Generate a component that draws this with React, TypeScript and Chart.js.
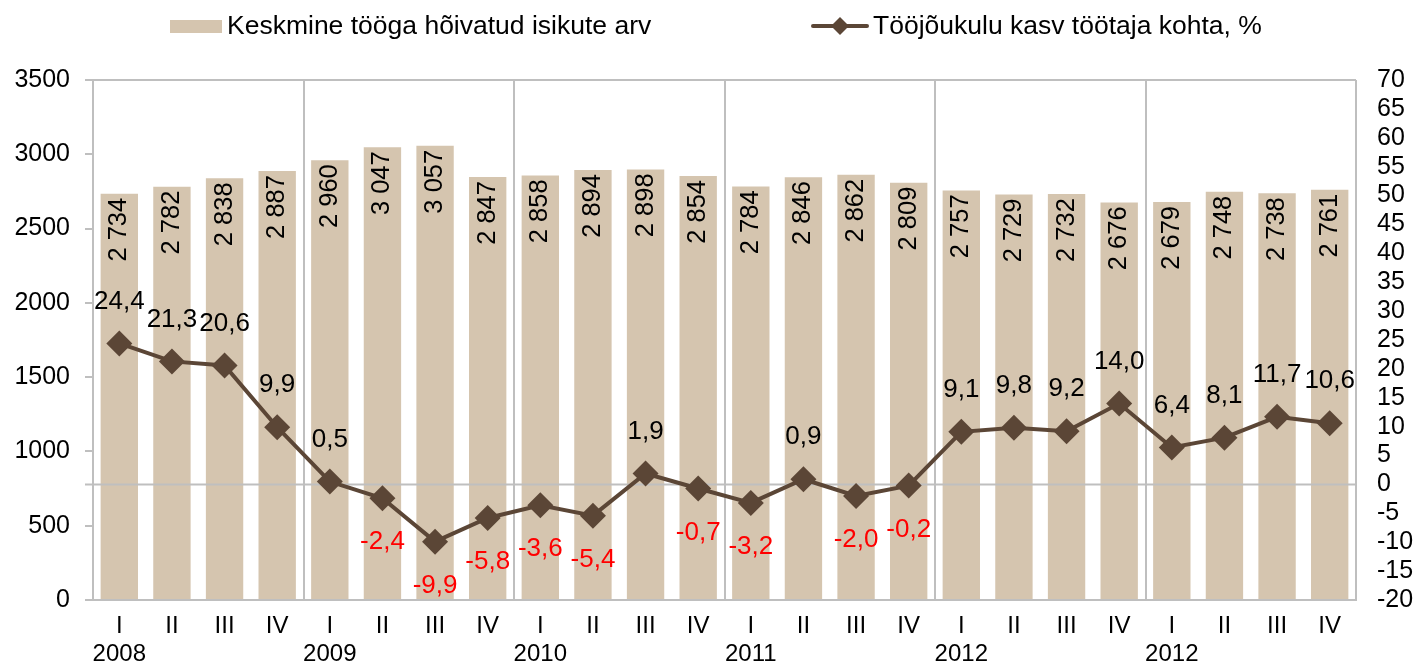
import { useEffect, useRef } from "react";
import { Chart, registerables } from "chart.js";

Chart.register(...registerables);

const quarters = ["I", "II", "III", "IV", "I", "II", "III", "IV", "I", "II", "III", "IV", "I", "II", "III", "IV", "I", "II", "III", "IV", "I", "II", "III", "IV"];
const years = ["2008", "", "", "", "2009", "", "", "", "2010", "", "", "", "2011", "", "", "", "2012", "", "", "", "2012", "", "", ""];
const employed = [2734, 2782, 2838, 2887, 2960, 3047, 3057, 2847, 2858, 2894, 2898, 2854, 2784, 2846, 2862, 2809, 2757, 2729, 2732, 2676, 2679, 2748, 2738, 2761];
const laborCostGrowth = [24.4, 21.3, 20.6, 9.9, 0.5, -2.4, -9.9, -5.8, -3.6, -5.4, 1.9, -0.7, -3.2, 0.9, -2.0, -0.2, 9.1, 9.8, 9.2, 14.0, 6.4, 8.1, 11.7, 10.6];
const barLegend = "Keskmine tööga hõivatud isikute arv";
const lineLegend = "Tööjõukulu kasv töötaja kohta, %";

const FONT = '"Liberation Sans", Arial, sans-serif';
const BAR_COLOR = "#D5C5AF";
const LINE_COLOR = "#5B4636";
const GRID = "#BFBFBF";

const fmtBar = (v: number) => `${Math.floor(v / 1000)} ${String(v % 1000).padStart(3, "0")}`;
const fmtLine = (v: number) => v.toFixed(1).replace(".", ",");

const decorPlugin = {
  id: "decor",
  beforeDatasetsDraw(chart: any) {
    const { ctx, chartArea } = chart;
    ctx.save();
    ctx.strokeStyle = GRID;
    ctx.lineWidth = 2;
    ctx.beginPath();
    ctx.moveTo(chartArea.left - 8, chartArea.top);
    ctx.lineTo(chartArea.right, chartArea.top);
    ctx.moveTo(chartArea.right, chartArea.top);
    ctx.lineTo(chartArea.right, chartArea.bottom);
    ctx.stroke();
    ctx.restore();
  },
  afterDatasetDraw(chart: any, args: any) {
    if (args.index !== 0) return;
    const { ctx, chartArea } = chart;
    const y0 = chart.scales.y1.getPixelForValue(0);
    ctx.save();
    ctx.strokeStyle = GRID;
    ctx.lineWidth = 2;
    ctx.beginPath();
    ctx.moveTo(chartArea.left - 8, y0);
    ctx.lineTo(chartArea.right, y0);
    ctx.stroke();
    // bar labels
    const meta = chart.getDatasetMeta(0);
    ctx.fillStyle = "#000";
    ctx.font = `25.5px ${FONT}`;
    ctx.textAlign = "right";
    ctx.textBaseline = "middle";
    meta.data.forEach((bar: any, i: number) => {
      ctx.save();
      ctx.translate(bar.x, bar.y + 4);
      ctx.rotate(-Math.PI / 2);
      ctx.fillText(fmtBar(employed[i]), 0, 0);
      ctx.restore();
    });
    ctx.restore();
  },
  afterDatasetsDraw(chart: any) {
    const { ctx } = chart;
    const meta = chart.getDatasetMeta(1);
    ctx.save();
    ctx.font = `26px ${FONT}`;
    ctx.textAlign = "center";
    ctx.textBaseline = "middle";
    meta.data.forEach((pt: any, i: number) => {
      const v = laborCostGrowth[i];
      ctx.fillStyle = v < 0 ? "#FF0000" : "#000000";
      ctx.fillText(fmtLine(v), pt.x, v < 0 ? pt.y + 44 : pt.y - 42);
    });
    ctx.restore();
  },
  afterDraw(chart: any) {
    const { ctx } = chart;
    ctx.save();
    ctx.fillStyle = BAR_COLOR;
    ctx.fillRect(170, 20, 52, 13);
    ctx.font = `26.5px ${FONT}`;
    ctx.textBaseline = "middle";
    ctx.textAlign = "left";
    ctx.fillStyle = "#000";
    ctx.fillText(barLegend, 227, 27);
    ctx.strokeStyle = LINE_COLOR;
    ctx.lineWidth = 4;
    ctx.lineCap = "round";
    ctx.beginPath();
    ctx.moveTo(813, 26);
    ctx.lineTo(867, 26);
    ctx.stroke();
    ctx.fillStyle = LINE_COLOR;
    ctx.beginPath();
    ctx.moveTo(840, 17);
    ctx.lineTo(849, 26);
    ctx.lineTo(840, 35);
    ctx.lineTo(831, 26);
    ctx.closePath();
    ctx.fill();
    ctx.fillStyle = "#000";
    ctx.fillText(lineLegend, 873, 27);
    ctx.restore();
  },
};

export default function App() {
  const ref = useRef<HTMLCanvasElement | null>(null);
  useEffect(() => {
    if (!ref.current) return;
    const labels = quarters.map((q, i) => [q, years[i]]);
    const chart = new Chart(ref.current, {
      data: {
        labels,
        datasets: [
          {
            type: "bar",
            label: barLegend,
            data: employed,
            backgroundColor: BAR_COLOR,
            yAxisID: "y",
            order: 1,
            categoryPercentage: 1,
            barPercentage: 0.71,
          },
          {
            type: "line",
            label: lineLegend,
            data: laborCostGrowth,
            borderColor: LINE_COLOR,
            backgroundColor: LINE_COLOR,
            borderWidth: 4,
            pointStyle: "rectRot",
            pointRadius: 13,
            pointBackgroundColor: LINE_COLOR,
            pointBorderColor: LINE_COLOR,
            pointBorderWidth: 0,
            yAxisID: "y1",
            order: 0,
            tension: 0,
          },
        ],
      } as any,
      options: {
        animation: false,
        responsive: true,
        maintainAspectRatio: false,
        events: [],
        layout: { padding: { top: 80, left: 0, right: 0, bottom: 0 } },
        plugins: { legend: { display: false }, tooltip: { enabled: false }, title: { display: false } },
        scales: {
          x: {
            offset: true,
            grid: {
              offset: true,
              drawTicks: false,
              lineWidth: 2,
              color: (c: any) => (c.index % 4 === 0 && c.index > 0 && c.index < 24 ? GRID : "rgba(0,0,0,0)"),
            },
            border: { display: true, color: GRID, width: 2 },
            ticks: {
              color: "#000",
              font: { family: FONT, size: 24, lineHeight: 1.17 },
              padding: 12,
              maxRotation: 0,
              autoSkip: false,
            },
            afterFit: (s: any) => { s.height = 66; },
          },
          y: {
            position: "left",
            min: 0,
            max: 3500,
            ticks: {
              stepSize: 500,
              autoSkip: false,
              color: "#000",
              font: { family: FONT, size: 25 },
              padding: 15,
              callback: (v: any) => String(v),
            },
            grid: { drawOnChartArea: false, drawTicks: true, tickLength: 8, color: GRID, lineWidth: 2 },
            border: { display: true, color: GRID, width: 2 },
            afterFit: (s: any) => { s.width = 93; },
          },
          y1: {
            position: "right",
            min: -20,
            max: 70,
            ticks: {
              stepSize: 5,
              autoSkip: false,
              color: "#000",
              font: { family: FONT, size: 25 },
              padding: 21,
              callback: (v: any) => String(v),
            },
            grid: { display: false, drawOnChartArea: false, drawTicks: false },
            border: { display: false },
            afterFit: (s: any) => { s.width = 63; },
          },
        },
      } as any,
      plugins: [decorPlugin],
    });
    return () => chart.destroy();
  }, []);
  return (
    <div style={{ position: "absolute", left: 0, top: 0, width: 1419, height: 666 }}>
      <canvas ref={ref} />
    </div>
  );
}
